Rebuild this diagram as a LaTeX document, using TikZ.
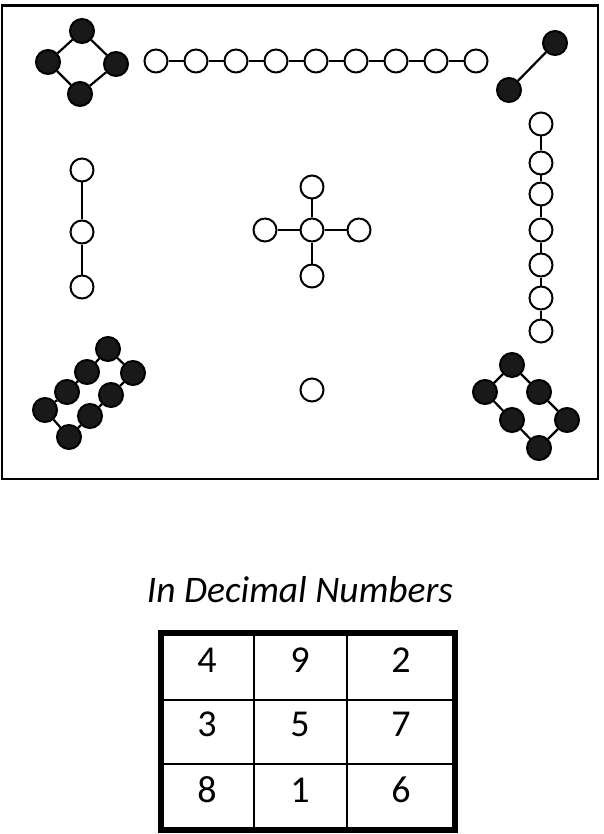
\documentclass[tikz,border=0pt]{standalone}
\usepackage{fontspec}
\setmainfont{Carlito}

\begin{document}
\begin{tikzpicture}[x=1pt, y=-1pt,
		odd/.style={circle, draw, line width=2, fill=white, minimum size=23pt, inner sep=0},
		even/.style={circle, draw, line width=2, fill=black!90, minimum size=24pt, inner sep=0},
		link/.style={line width=2.2},
		digit/.style={font=\fontsize{38}{40}\selectfont}]
		\useasboundingbox (0, 0) rectangle (604, 834);
		\draw [line width=2.5] (2, 5.5) rectangle (598, 479);
		% four
		\node [even] (a1) at (82, 31) {};
		\node [even] (a2) at (48, 62) {};
		\node [even] (a3) at (116, 64) {};
		\node [even] (a4) at (80, 94) {};
		\draw [link] (a1) -- (a2) -- (a4) -- (a3) -- (a1);
		% nine
		\node [odd] (b1) at (156, 61) {};
		\node [odd] (b2) at (196, 61) {};
		\node [odd] (b3) at (236, 61) {};
		\node [odd] (b4) at (276, 61) {};
		\node [odd] (b5) at (316, 61) {};
		\node [odd] (b6) at (356, 61) {};
		\node [odd] (b7) at (396, 61) {};
		\node [odd] (b8) at (436, 61) {};
		\node [odd] (b9) at (476, 61) {};
		\draw [link] (b1) -- (b2) -- (b3) -- (b4) -- (b5) -- (b6) -- (b7) -- (b8) -- (b9);
		% two
		\node [even] (c1) at (555, 43) {};
		\node [even] (c2) at (509, 90) {};
		\draw [link] (c1) -- (c2);
		% three
		\node [odd] (d1) at (82, 170) {};
		\node [odd] (d2) at (82, 232) {};
		\node [odd] (d3) at (82, 287) {};
		\draw [link] (d1) -- (d2) -- (d3);
		% five
		\node [odd] (e0) at (312, 230) {};
		\node [odd] (e1) at (312, 187) {};
		\node [odd] (e2) at (265, 230) {};
		\node [odd] (e3) at (359, 230) {};
		\node [odd] (e4) at (312, 276) {};
		\draw [link] (e0) -- (e1);
		\draw [link] (e0) -- (e2);
		\draw [link] (e0) -- (e3);
		\draw [link] (e0) -- (e4);
		% seven
		\node [odd] (f1) at (541, 124) {};
		\node [odd] (f2) at (541, 163) {};
		\node [odd] (f3) at (541, 194) {};
		\node [odd] (f4) at (541, 230) {};
		\node [odd] (f5) at (541, 265) {};
		\node [odd] (f6) at (541, 298) {};
		\node [odd] (f7) at (541, 331) {};
		\draw [link] (f1) -- (f2) -- (f3) -- (f4) -- (f5) -- (f6) -- (f7);
		% one
		\node [odd] (g1) at (312, 390) {};
		% eight
		\node [even] (h1) at (108, 349) {};
		\node [even] (h2) at (87, 372) {};
		\node [even] (h3) at (67, 392) {};
		\node [even] (h4) at (45, 410) {};
		\node [even] (h5) at (69, 437) {};
		\node [even] (h6) at (90, 416) {};
		\node [even] (h7) at (111, 395) {};
		\node [even] (h8) at (133, 373) {};
		\draw [link] (h1) -- (h2) -- (h3) -- (h4) -- (h5) -- (h6) -- (h7) -- (h8) -- (h1);
		% six
		\node [even] (k1) at (512, 365) {};
		\node [even] (k2) at (485, 392) {};
		\node [even] (k3) at (539, 392) {};
		\node [even] (k4) at (512, 420) {};
		\node [even] (k5) at (567, 420) {};
		\node [even] (k6) at (539, 448) {};
		\draw [link] (k1) -- (k2) -- (k4) -- (k6) -- (k5) -- (k3) -- (k1);

		\node [anchor=base, font=\itshape\fontsize{37.5}{40}\selectfont] (title) at (300, 602) {In Decimal Numbers};

		\draw [line width=2] (254, 633) -- (254, 830);
		\draw [line width=2] (347, 633) -- (347, 830);
		\draw [line width=2] (161, 700) -- (455, 700);
		\draw [line width=2] (161, 764) -- (455, 764);
		\draw [line width=6] (161, 633) rectangle (455, 830);
		\node [digit] (s11) at (207, 660) {4};
		\node [digit] (s12) at (300, 660) {9};
		\node [digit] (s13) at (401, 660) {2};
		\node [digit] (s21) at (207, 724) {3};
		\node [digit] (s22) at (300, 724) {5};
		\node [digit] (s23) at (401, 724) {7};
		\node [digit] (s31) at (207, 790) {8};
		\node [digit] (s32) at (300, 790) {1};
		\node [digit] (s33) at (401, 790) {6};
	\end{tikzpicture}
\end{document}
